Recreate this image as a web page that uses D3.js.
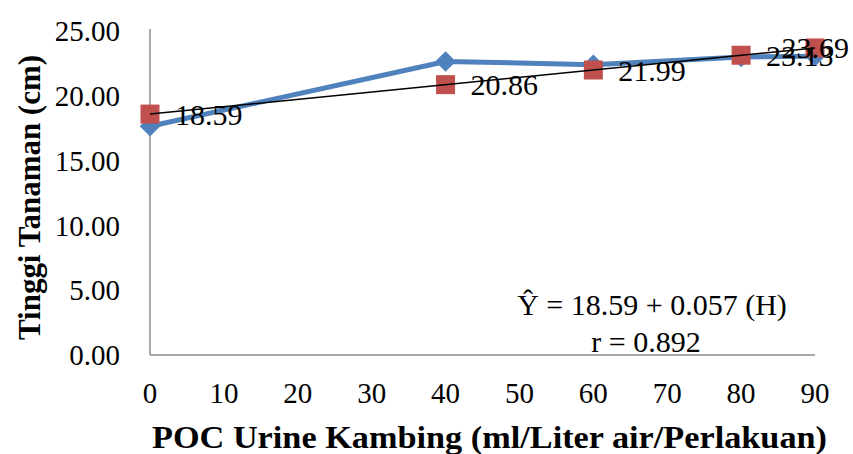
<!DOCTYPE html>
<html lang="id">
<head>
  <meta charset="UTF-8">
  <title>Tinggi Tanaman - POC Urine Kambing</title>
  <script src="https://d3js.org/d3.v7.min.js"></script>
  <style>
    body {
      margin: 0;
      background: #fff;
    }
    text {
      font-family: "Times New Roman", "Liberation Serif", serif;
      fill: #000;
    }
    .tick-label { font-size: 29px; }
    .axis-title { font-size: 32px; font-weight: bold; }
    .data-label { font-size: 30px; }
    .eq { font-size: 30px; }
  </style>
</head>
<body>
<div id="chart"></div>

<script>
  // dosis POC (ml/liter air/perlakuan)
  const dosis = [0, 40, 60, 80, 90];
  // tinggi tanaman hasil pengamatan (cm)
  const observed = [17.65, 22.65, 22.4, 23.0, 23.05];
  // tinggi tanaman hasil regresi (cm)
  const predicted = [18.59, 20.86, 21.99, 23.13, 23.69];
  const xTicks = [0, 10, 20, 30, 40, 50, 60, 70, 80, 90];
  const yTicks = [0, 5, 10, 15, 20, 25];
  const equation = ["Ŷ = 18.59 + 0.057 (H)", "r = 0.892"];

  const width = 853;
  const height = 454;
  const margin = { left: 150, right: 38, top: 31, bottom: 99 };

  const svg = d3.select("#chart").append("svg")
    .attr("width", width)
    .attr("height", height);

  const x = d3.scaleLinear()
    .domain([0, 90])
    .range([margin.left, width - margin.right]);

  const y = d3.scaleLinear()
    .domain([0, 25])
    .range([height - margin.bottom, margin.top]);

  // axes lines
  svg.append("line")
    .attr("x1", x(0)).attr("x2", x(0))
    .attr("y1", y(25) - 2).attr("y2", y(0))
    .attr("stroke", "#8c8c8c").attr("stroke-width", 1.5);
  svg.append("line")
    .attr("x1", x(0)).attr("x2", x(90))
    .attr("y1", y(0)).attr("y2", y(0))
    .attr("stroke", "#8c8c8c").attr("stroke-width", 1.5);

  svg.append("g")
    .selectAll("text")
    .data(yTicks)
    .join("text")
      .attr("class", "tick-label")
      .attr("x", x(0) - 30)
      .attr("y", d => y(d))
      .attr("dy", "0.35em")
      .attr("text-anchor", "end")
      .text(d => d.toFixed(2));

  svg.append("g")
    .selectAll("text")
    .data(xTicks)
    .join("text")
      .attr("class", "tick-label")
      .attr("x", d => x(d))
      .attr("y", y(0) + 48)
      .attr("text-anchor", "middle")
      .text(d => d);

  // axis titles
  svg.append("text")
    .attr("class", "axis-title")
    .attr("x", 152)
    .attr("y", 448)
    .attr("textLength", 675)
    .attr("lengthAdjust", "spacingAndGlyphs")
    .text("POC Urine Kambing (ml/Liter air/Perlakuan)");

  svg.append("text")
    .attr("class", "axis-title")
    .attr("transform", "translate(40, 340) rotate(-90)")
    .attr("textLength", 285)
    .attr("lengthAdjust", "spacingAndGlyphs")
    .text("Tinggi Tanaman (cm)");

  // observed line
  const line = d3.line()
    .x((d, i) => x(dosis[i]))
    .y(d => y(d));

  svg.append("path")
    .datum(observed)
    .attr("d", line)
    .attr("fill", "none")
    .attr("stroke", "#4F81BD")
    .attr("stroke-width", 5)
    .attr("stroke-linejoin", "round");

  svg.append("g")
    .selectAll("path")
    .data(observed)
    .join("path")
      .attr("d", d3.symbol(d3.symbolDiamond2, 270))
      .attr("transform", (d, i) => `translate(${x(dosis[i])},${y(d)})`)
      .attr("fill", "#4F81BD");

  // predicted squares
  svg.append("g")
    .selectAll("rect")
    .data(predicted)
    .join("rect")
      .attr("x", (d, i) => x(dosis[i]) - 9.5)
      .attr("y", d => y(d) - 9.5)
      .attr("width", 19)
      .attr("height", 19)
      .attr("fill", "#C0504D");

  // trendline
  svg.append("line")
    .attr("x1", x(dosis[0])).attr("y1", y(predicted[0]))
    .attr("x2", x(dosis[dosis.length - 1])).attr("y2", y(predicted[predicted.length - 1]))
    .attr("stroke", "#000")
    .attr("stroke-width", 1.5);

  // data labels
  svg.append("g")
    .selectAll("text")
    .data(predicted)
    .join("text")
      .attr("class", "data-label")
      .attr("x", (d, i) => i === predicted.length - 1 ? width - 4 : x(dosis[i]) + 25)
      .attr("y", d => y(d))
      .attr("dy", "0.35em")
      .attr("text-anchor", (d, i) => i === predicted.length - 1 ? "end" : "start")
      .text(d => d.toFixed(2));

  // equation
  svg.append("text")
    .attr("class", "eq")
    .attr("x", 652)
    .attr("y", 315)
    .attr("text-anchor", "middle")
    .text(equation[0]);
  svg.append("text")
    .attr("class", "eq")
    .attr("x", 646)
    .attr("y", 352)
    .attr("text-anchor", "middle")
    .text(equation[1]);
</script>

</body>
</html>
